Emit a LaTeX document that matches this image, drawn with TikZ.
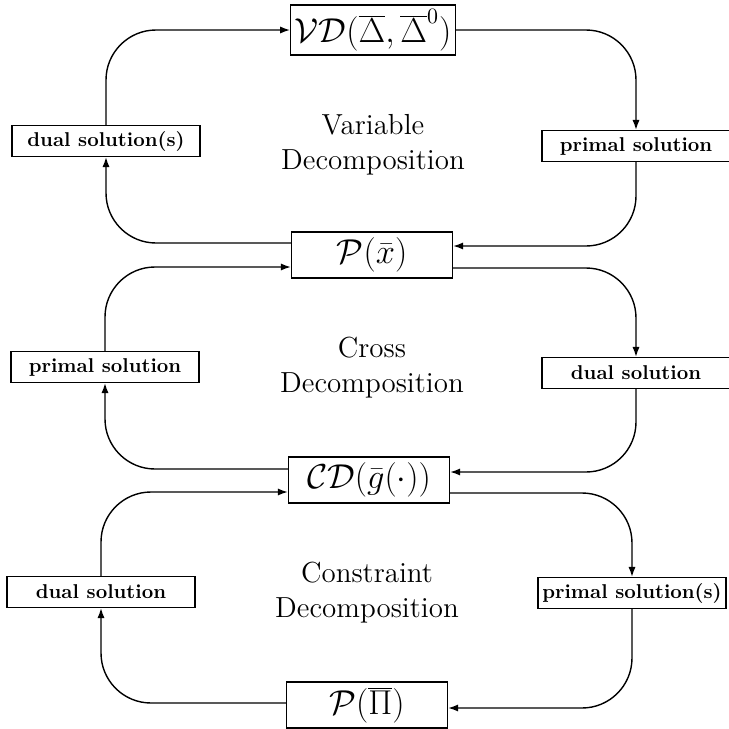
\documentclass[tikz,border=0pt]{standalone}
\usetikzlibrary{arrows.meta,shapes}
\usetikzlibrary{calc}
\tikzstyle{mainbox}=[rectangle,draw,line width=0.7pt,minimum width=80.5pt,minimum height=23pt,inner sep=2pt,font=\fontsize{16}{19}\selectfont]
\tikzstyle{sidebox}=[rectangle,draw,line width=0.6pt,minimum width=94pt,minimum height=15.5pt,inner sep=1pt,font=\bfseries]
\tikzstyle{flow} = [draw,line width=0.7pt,->,rounded corners=25pt]
\tikzstyle{loopname} = [align=center,font=\fontsize{14.5}{17.5}\selectfont]

\begin{document}
\begin{tikzpicture}[x=0.5pt,y=-0.5pt,>={Latex[length=5pt,width=3.6pt]}]
    \useasboundingbox (0,0) rectangle (729,729);

    % problems in the middle column
    \node[mainbox,minimum height=25pt] (vd) at (373,30) {$\mathcal{VD}(\overline{\Delta},\overline{\Delta}^0)$};
    \foreach \pos/ \name/ \txt in {{(372,255)/px/{$\mathcal{P}(\bar{x})$}}, {(369,480)/cd/{$\mathcal{CD}(\bar{g}(\cdot))$}}, {(367,705)/ppi/{$\mathcal{P}(\overline{\Pi})$}}}
        \node[mainbox] (\name) at \pos {\txt};

    % solutions passed round each loop
    \foreach \pos/ \name/ \txt in {{(106,141)/ds1/dual solution(s)}, {(636,146)/ps1/primal solution}, {(105,367)/ps2/primal solution}, {(636,373)/ds2/dual solution}, {(101,592)/ds3/dual solution}, {(632,593)/ps3/primal solution(s)}}
        \node[sidebox] (\name) at \pos {\txt};

    % names of the loops
    \node[loopname] (vdname) at (373,145) {Variable\\Decomposition};
    \node[loopname] (crossname) at (372,368) {Cross\\Decomposition};
    \node[loopname] (cdname) at (367,593) {Constraint\\Decomposition};

    % variable decomposition loop
    \path[flow] ($(px.west)+(0,-12)$) -| (ds1.south);
    \path[flow] (ds1.north) |- (vd.west);
    \path[flow] (vd.east) -| (ps1.north);
    \path[flow] (ps1.south) |- ($(px.east)+(0,-9)$);

    % cross decomposition loop
    \path[flow] (ps2.north) |- ($(px.west)+(0,12)$);
    \path[flow] ($(px.east)+(0,13)$) -| (ds2.north);
    \path[flow] (ds2.south) |- ($(cd.east)+(0,-8)$);
    \path[flow] ($(cd.west)+(0,-11)$) -| (ps2.south);

    % constraint decomposition loop
    \path[flow] (ds3.north) |- ($(cd.west)+(0,12)$);
    \path[flow] ($(cd.east)+(0,13)$) -| (ps3.north);
    \path[flow] (ps3.south) |- ($(ppi.east)+(0,3)$);
    \path[flow] ($(ppi.west)+(0,-2)$) -| (ds3.south);

\end{tikzpicture}
\end{document}
